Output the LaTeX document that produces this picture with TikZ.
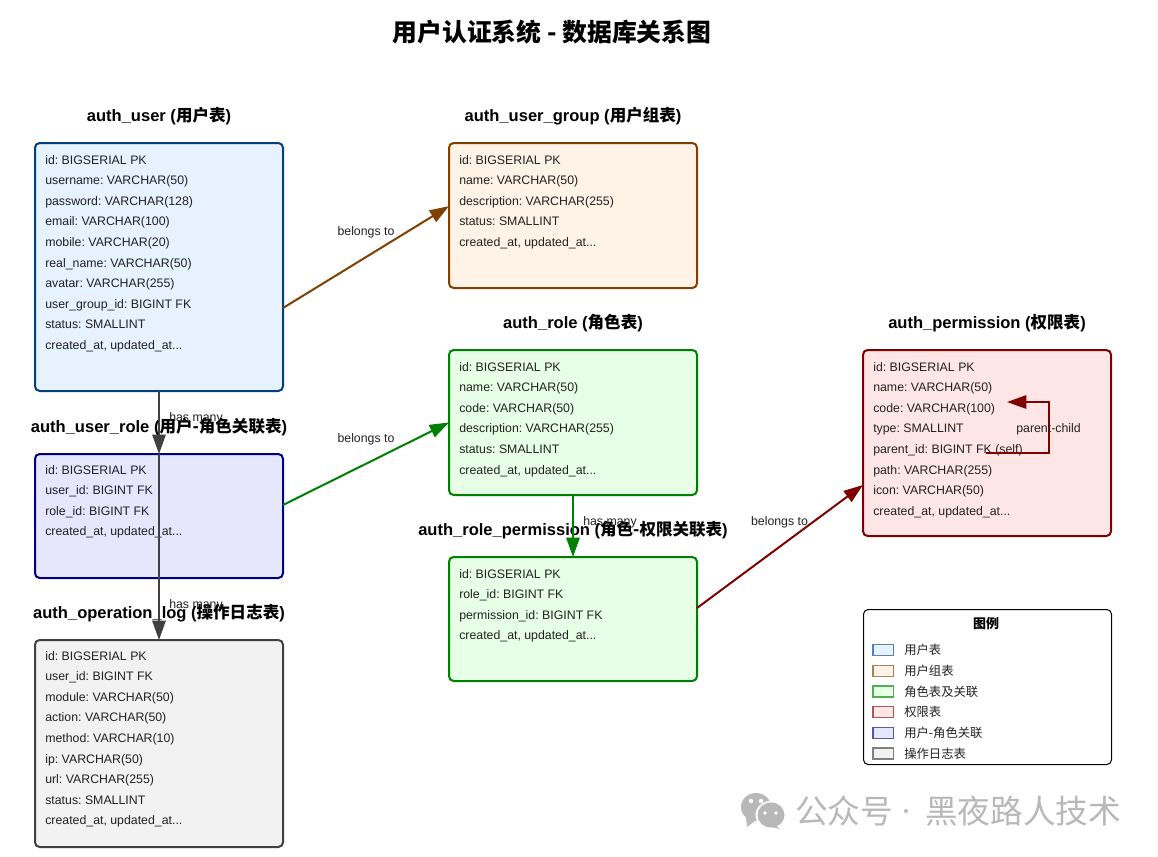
\documentclass[tikz,border=0pt]{standalone}
\usepackage{fontspec}
\setmainfont{Liberation Sans}
\newfontfamily\cjk{Noto Sans CJK SC}
\newcommand{\cn}[1]{{\cjk #1}}
\newcommand{\stamp}{created\_at, updated\_at.{}.{}.}
\usetikzlibrary{arrows.meta,positioning}
\definecolor{txt}{HTML}{222222}
\definecolor{cuser}{HTML}{004080}\definecolor{fuser}{HTML}{E6F2FF}
\definecolor{cgroup}{HTML}{804000}\definecolor{fgroup}{HTML}{FFF2E6}
\definecolor{crole}{HTML}{008000}\definecolor{frole}{HTML}{E6FFE6}
\definecolor{cperm}{HTML}{800000}\definecolor{fperm}{HTML}{FFE6E6}
\definecolor{cur}{HTML}{000080}\definecolor{fur}{HTML}{E6E6FF}
\definecolor{clog}{HTML}{404040}\definecolor{flog}{HTML}{F2F2F2}
\definecolor{wm}{HTML}{B8B8B8}
\tikzset{
  tbl/.style={draw=#1,line width=1.5pt,rounded corners=3.5pt,anchor=north west,inner sep=0pt,outer sep=0pt},
  fieldtxt/.style={anchor=base west,inner sep=0pt,font=\frenchspacing\fontsize{9.25}{11}\selectfont,text=txt},
  ttl/.style={inner sep=0pt,font=\frenchspacing\fontsize{12.4}{14}\selectfont\bfseries,text=black},
  lbl/.style={inner sep=0pt,font=\fontsize{9.25}{11}\selectfont,text=txt},
  conn/.style={draw=#1,line width=1.5pt,-{Triangle[length=14.5pt,width=10pt]}},
  swatch/.style={draw=#1,line width=1.2pt,draw opacity=.65,anchor=west,minimum width=15.5pt,minimum height=8pt,inner sep=0pt,outer sep=0pt},
  legtxt/.style={anchor=west,inner sep=0pt,font=\fontsize{9.25}{11}\selectfont\cjk,text=txt},
  wmtxt/.style={anchor=west,inner sep=0pt,font=\fontsize{24.5}{28}\selectfont\cjk,text=wm}
}
\newcommand{\fields}[4]{%
  \foreach \t [count=\n] in {#4}{
    \node[fieldtxt] (#1-\n) at (#2,{#3+20.6*(\n-1)}) {\t};
  }}
\begin{document}
\begin{tikzpicture}[x=0.75pt,y=-0.75pt]
\useasboundingbox (0,0) rectangle (1158,857);
\fill[white] (0,0) rectangle (1158,857);

\node[inner sep=0pt,font=\fontsize{18.6}{22}\selectfont\bfseries\cjk] (title) at (552,32) {用户认证系统 - 数据库关系图};

% tables
\node[tbl=cuser,fill=fuser,minimum width=186pt,minimum height=186pt] (user) at (35,143) {};
\node[tbl=cgroup,fill=fgroup,minimum width=186pt,minimum height=108.75pt] (group) at (449,143) {};
\node[tbl=crole,fill=frole,minimum width=186pt,minimum height=108.75pt] (role) at (449,350) {};
\node[tbl=cperm,fill=fperm,minimum width=186pt,minimum height=139.5pt] (perm) at (863,350) {};
\node[tbl=cur,fill=fur,minimum width=186pt,minimum height=93pt] (urole) at (35,454) {};
\node[tbl=crole,fill=frole,minimum width=186pt,minimum height=93pt] (rperm) at (449,557) {};
\node[tbl=clog,fill=flog,minimum width=186pt,minimum height=155.25pt] (oplog) at (35,640) {};

% titles
\node[ttl] (t-user) at (159,116) {auth\_user (\cn{用户表})};
\node[ttl] (t-group) at (573,116) {auth\_user\_group (\cn{用户组表})};
\node[ttl] (t-role) at (573,323) {auth\_role (\cn{角色表})};
\node[ttl] (t-perm) at (987,323) {auth\_permission (\cn{权限表})};
\node[ttl] (t-urole) at (159,427) {auth\_user\_role (\cn{用户-角色关联表})};
\node[ttl] (t-rperm) at (573,530) {auth\_role\_permission (\cn{角色-权限关联表})};
\node[ttl] (t-log) at (159,613) {auth\_operation\_log (\cn{操作日志表})};

% fields
\fields{fu}{45}{164}{id: BIGSERIAL PK,username: VARCHAR(50),password: VARCHAR(128),email: VARCHAR(100),mobile: VARCHAR(20),real\_name: VARCHAR(50),avatar: VARCHAR(255),user\_group\_id: BIGINT FK,status: SMALLINT,\stamp}
\fields{fg}{459}{164}{id: BIGSERIAL PK,name: VARCHAR(50),description: VARCHAR(255),status: SMALLINT,\stamp}
\fields{fr}{459}{371}{id: BIGSERIAL PK,name: VARCHAR(50),code: VARCHAR(50),description: VARCHAR(255),status: SMALLINT,\stamp}
\fields{fp}{873}{371}{id: BIGSERIAL PK,name: VARCHAR(50),code: VARCHAR(100),type: SMALLINT,parent\_id: BIGINT FK (self),path: VARCHAR(255),icon: VARCHAR(50),\stamp}
\fields{fur}{45}{474}{id: BIGSERIAL PK,user\_id: BIGINT FK,role\_id: BIGINT FK,\stamp}
\fields{frp}{459}{578}{id: BIGSERIAL PK,role\_id: BIGINT FK,permission\_id: BIGINT FK,\stamp}
\fields{fl}{45}{660}{id: BIGSERIAL PK,user\_id: BIGINT FK,module: VARCHAR(50),action: VARCHAR(50),method: VARCHAR(10),ip: VARCHAR(50),url: VARCHAR(255),status: SMALLINT,\stamp}

% connectors
\draw[conn=cgroup] ([yshift=-30.75pt]user.east) -- ([yshift=7pt]group.west);
\draw[conn=crole] ([yshift=8.25pt]urole.east) -- (role.west);
\draw[conn=clog] (user.south) -- (urole.north);
\draw[conn=clog] (urole.north) -- (oplog.north);
\draw[conn=crole] (role.south) -- (rperm.north);
\draw[conn=cperm] ([yshift=8.25pt]rperm.east) -- ([yshift=-31.5pt]perm.west);
\coordinate (loopA) at (986,453);
\coordinate (loopB) at (1007,402);
\draw[conn=cperm] (loopA) -- (1049,453) -- (1049,402) -- (loopB);

% connector labels
\node[lbl] (l1) at (366,232) {belongs to};
\node[lbl] (l2) at (366,439) {belongs to};
\node[lbl] (l3) at (779.5,522) {belongs to};
\node[lbl] (l4) at (196,418.5) {has many};
\node[lbl] (l5) at (196,605.5) {has many};
\node[lbl] (l6) at (610,522.5) {has many};
\node[lbl] (l7) at (1048.5,429.5) {parent-child};

% legend
\node[draw=black,line width=.75pt,rounded corners=3.5pt,anchor=north west,minimum width=186pt,minimum height=116.25pt,inner sep=0pt,fill=white] (legend) at (863,609) {};
\node[inner sep=0pt,font=\fontsize{9.75}{12}\selectfont\bfseries\cjk] (legtitle) at (986,624) {图例};
\node[swatch=cuser,fill=fuser] (s1) at (873,650) {};
\node[swatch=cgroup,fill=fgroup] (s2) at (873,671) {};
\node[swatch=crole,fill=frole] (s3) at (873,691.5) {};
\node[swatch=cperm,fill=fperm] (s4) at (873,712) {};
\node[swatch=cur,fill=fur] (s5) at (873,733) {};
\node[swatch=clog,fill=flog] (s6) at (873,753.5) {};
\node[legtxt] (n1) at (904,650) {用户表};
\node[legtxt] (n2) at (904,671) {用户组表};
\node[legtxt] (n3) at (904,691.5) {角色表及关联};
\node[legtxt] (n4) at (904,712) {权限表};
\node[legtxt] (n5) at (904,733) {用户-角色关联};
\node[legtxt] (n6) at (904,753.5) {操作日志表};

% watermark
\fill[wm] (756,807) ellipse [x radius=15,y radius=14];
\fill[wm] (746,817) -- (747,827) -- (756,820) -- cycle;
\fill[white] (771,815) ellipse [x radius=15.5,y radius=14];
\fill[wm] (771,815) ellipse [x radius=13.5,y radius=12.5];
\fill[wm] (775,825) -- (780,829) -- (768,826) -- cycle;
\fill[white] (751,801) circle (2.2);
\fill[white] (761,801) circle (2.2);
\fill[white] (765,813) circle (1.9);
\fill[white] (776,813) circle (1.9);
\node[wmtxt] (wm1) at (795,811) {公众号};
\node[circle,fill=wm,inner sep=0pt,minimum size=3pt] (wm2) at (906,811) {};
\node[wmtxt] (wm3) at (925,811) {黑夜路人技术};
\end{tikzpicture}
\end{document}
